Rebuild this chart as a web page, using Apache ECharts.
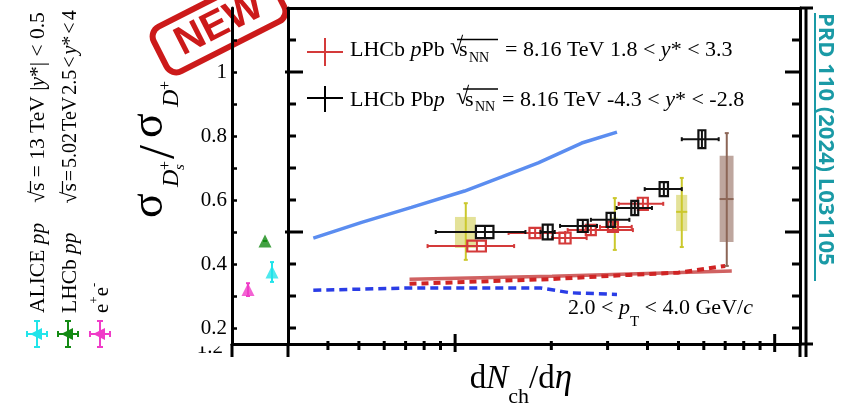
<!DOCTYPE html>
<html>
<head>
<meta charset="utf-8">
<title>Ds+/D+ vs dNch/deta</title>
<script src="https://cdn.jsdelivr.net/npm/echarts@6.0.0/dist/echarts.min.js"></script>
<style>
  html, body { margin: 0; padding: 0; background: #fff; }
  #main { width: 846px; height: 412px; }
</style>
</head>
<body>
<div id="main"></div>
<script>
// LHCb pPb 1.8 < y* < 3.3 : point, x error range, syst box (x relative, y absolute)
var pPbX    = [11.7, 17.8, 22.1, 26.6, 31.2, 38.7];
var pPbY    = [0.456, 0.497, 0.481, 0.506, 0.516, 0.588];
var pPbXLo  = [8.2, 14.7, 20.1, 22.5, 28.4, 32.5];
var pPbXHi  = [15.3, 22.1, 25.8, 36.0, 35.7, 44.8];
var pPbSysX = [0.067, 0.04, 0.04, 0.036, 0.036, 0.036];
var pPbSysY = [0.017, 0.016, 0.017, 0.016, 0.016, 0.019];

// LHCb Pbp -4.3 < y* < -2.8
var pbpX    = [12.4, 19.5, 25.1, 30.7, 36.5, 45.0, 59.2];
var pbpY    = [0.500, 0.500, 0.519, 0.538, 0.575, 0.634, 0.790];
var pbpXLo  = [8.7, 18.5, 21.3, 26.6, 32.0, 39.2, 51.2];
var pbpXHi  = [16.6, 20.5, 27.8, 35.1, 41.3, 51.2, 66.8];
var pbpSysX = [0.063, 0.036, 0.036, 0.03, 0.025, 0.03, 0.025];
var pbpSysY = [0.019, 0.023, 0.019, 0.022, 0.022, 0.022, 0.028];

// yellow / brown bands
var yelX     = [10.8, 31.6, 51.2];
var yelY     = [0.500, 0.525, 0.563];
var yelLo    = [0.413, 0.444, 0.453];
var yelHi    = [0.590, 0.606, 0.669];
var yelBoxLo = [0.450, 0.505, 0.503];
var yelBoxHi = [0.547, 0.545, 0.616];
var yelSysX  = [0.075, 0.02, 0.04];

var brX = [70.8], brY = [0.603], brLo = [0.394], brHi = [0.809];
var brBoxLo = [0.469], brBoxHi = [0.738], brSysX = [0.05];

// curves
var blueX     = [3.6, 5.1, 7.3, 10.7, 14.0, 18.2, 24.9, 32.1];
var blueY     = [0.481, 0.530, 0.577, 0.628, 0.672, 0.716, 0.778, 0.812];
var blueDashX = [3.6, 7.2, 18.5, 23.0, 32.1];
var blueDashY = [0.318, 0.325, 0.325, 0.310, 0.305];
var redX      = [7.2, 20.1, 73.4];
var redY      = [0.352, 0.362, 0.378];
var redDashX  = [7.2, 20.1, 35.0, 50.0, 70.0];
var redDashY  = [0.338, 0.353, 0.366, 0.373, 0.394];

// reference points (left panel): e+e-, LHCb pp, ALICE pp
var refPos = [16, 33, 40];
var refY   = [0.320, 0.472, 0.375];
var refLo  = [0.300, 0.472, 0.344];
var refHi  = [0.340, 0.472, 0.406];
var refColors = ['#f03cc8', '#138a13', '#22e4ea'];

// ticks
var xMinorTicks = [4, 5, 6, 7, 8, 9, 20, 30, 40, 50, 60, 70, 80, 90];
var xMajorTicks = [10, 100];
var yMinorTicks = [0.2, 0.3, 0.4, 0.6, 0.7, 0.8, 0.9, 1.1];
var yMajorTicks = [0.5, 1.0];
var yLabels = [0.2, 0.4, 0.6, 0.8, 1];
var yLeftTicks = [0.2, 0.3, 0.4, 0.5, 0.6, 0.7, 0.8, 0.9, 1.0, 1.1];

var serif = '"Liberation Serif", "Times New Roman", serif';
var RED = '#d43a3a';

function zip() {
  var cols = Array.prototype.slice.call(arguments);
  return cols[0].map(function (v, i) {
    return cols.map(function (c) { return c[i]; });
  });
}
function tk(size, italic, extra) {
  var s = { fontSize: size, fontFamily: serif, fontStyle: italic ? 'italic' : 'normal', fill: '#000' };
  for (var k in extra || {}) s[k] = extra[k];
  return s;
}

// box + horizontal error bar point
function sysPoint(color) {
  return function (params, api) {
    var x = api.value(0), y = api.value(1);
    var c = api.coord([x, y]);
    var lo = api.coord([api.value(2), y]);
    var hi = api.coord([api.value(3), y]);
    var b0 = api.coord([x * (1 - api.value(4)), y - api.value(5)]);
    var b1 = api.coord([x * (1 + api.value(4)), y + api.value(5)]);
    var st = { stroke: color, lineWidth: 2 };
    return { type: 'group', children: [
      { type: 'line', shape: { x1: lo[0], y1: c[1], x2: hi[0], y2: c[1] }, style: st },
      { type: 'line', shape: { x1: lo[0], y1: c[1] - 2, x2: lo[0], y2: c[1] + 2 }, style: st },
      { type: 'line', shape: { x1: hi[0], y1: c[1] - 2, x2: hi[0], y2: c[1] + 2 }, style: st },
      { type: 'rect', shape: { x: b0[0], y: b1[1], width: b1[0] - b0[0], height: b0[1] - b1[1] },
        style: { stroke: color, lineWidth: 2.2, fill: 'none' } },
      { type: 'line', shape: { x1: c[0], y1: b1[1], x2: c[0], y2: b0[1] }, style: st }
    ] };
  };
}

// filled syst band + vertical error bar
function band(fillColor, lineColor) {
  return function (params, api) {
    var x = api.value(0), y = api.value(1);
    var c = api.coord([x, y]);
    var lo = api.coord([x, api.value(2)]);
    var hi = api.coord([x, api.value(3)]);
    var b0 = api.coord([x * (1 - api.value(6)), api.value(4)]);
    var b1 = api.coord([x * (1 + api.value(6)), api.value(5)]);
    var st = { stroke: lineColor, lineWidth: 2 };
    return { type: 'group', children: [
      { type: 'rect', shape: { x: b0[0], y: b1[1], width: b1[0] - b0[0], height: b0[1] - b1[1] },
        style: { fill: fillColor } },
      { type: 'line', shape: { x1: c[0], y1: hi[1], x2: c[0], y2: lo[1] }, style: st },
      { type: 'line', shape: { x1: c[0] - 2, y1: hi[1], x2: c[0] + 2, y2: hi[1] }, style: st },
      { type: 'line', shape: { x1: c[0] - 2, y1: lo[1], x2: c[0] + 2, y2: lo[1] }, style: st },
      { type: 'line', shape: { x1: b0[0], y1: c[1], x2: b1[0], y2: c[1] }, style: st }
    ] };
  };
}

function xTick(params, api) {
  var p = api.coord([api.value(0), 0.15]);
  var major = api.value(2) === 1;
  return { type: 'line',
    shape: { x1: p[0], y1: p[1] - (major ? 10 : 3), x2: p[0], y2: p[1] + (major ? 8 : 6) },
    style: { stroke: '#000', lineWidth: 3 } };
}
function yTick(params, api) {
  var v = api.value(1), major = api.value(2) === 1, len = major ? 15 : 8;
  var l = api.coord([3, v]), r = api.coord([120, v]);
  var st = { stroke: '#000', lineWidth: 3 };
  return { type: 'group', children: [
    { type: 'line', shape: { x1: l[0] - (major ? 3 : 0), y1: l[1], x2: l[0] + len, y2: l[1] }, style: st },
    { type: 'line', shape: { x1: r[0] - len, y1: r[1], x2: r[0], y2: r[1] }, style: st }
  ] };
}
function vErr(params, api) {
  var x = api.value(0);
  var lo = api.coord([x, api.value(1)]), hi = api.coord([x, api.value(2)]);
  var st = { stroke: refColors[params.dataIndex], lineWidth: 2 };
  return { type: 'group', children: [
    { type: 'line', shape: { x1: lo[0], y1: lo[1], x2: hi[0], y2: hi[1] }, style: st },
    { type: 'line', shape: { x1: hi[0] - 2, y1: hi[1], x2: hi[0] + 2, y2: hi[1] }, style: st },
    { type: 'line', shape: { x1: lo[0] - 2, y1: lo[1], x2: lo[0] + 2, y2: lo[1] }, style: st }
  ] };
}

var axisLine = { show: true, lineStyle: { color: '#000', width: 3 } };
var off = { show: false };

// legend cross marker for the left (rotated) legend
function refMarker(cx, cy, color) {
  var st = { stroke: color, lineWidth: 2 };
  return [
    { type: 'line', shape: { x1: cx, y1: cy - 13, x2: cx, y2: cy + 13 }, style: st },
    { type: 'line', shape: { x1: cx - 10, y1: cy, x2: cx + 10, y2: cy }, style: st },
    { type: 'line', shape: { x1: cx - 10, y1: cy - 3, x2: cx - 10, y2: cy + 3 }, style: st },
    { type: 'line', shape: { x1: cx + 10, y1: cy - 3, x2: cx + 10, y2: cy + 3 }, style: st },
    { type: 'line', shape: { x1: cx - 3, y1: cy - 13, x2: cx + 3, y2: cy - 13 }, style: st },
    { type: 'line', shape: { x1: cx - 3, y1: cy + 13, x2: cx + 3, y2: cy + 13 }, style: st },
    { type: 'polygon', shape: { points: [[cx - 7, cy], [cx + 5, cy - 6], [cx + 5, cy + 6]] }, style: { fill: color } }
  ];
}
function line(x1, y1, x2, y2, color, w) {
  return { type: 'line', z: 40, shape: { x1: x1, y1: y1, x2: x2, y2: y2 }, style: { stroke: color || '#000', lineWidth: w || 3 } };
}
function txt(x, y, text, rich, extra) {
  var st = { text: text, rich: rich, fontSize: 22, fontFamily: serif, fill: '#000', align: 'left', verticalAlign: 'middle' };
  for (var k in extra || {}) st[k] = extra[k];
  return { type: 'text', x: x, y: y, z: 40, style: st };
}

var legRich = { n: tk(22, false), i: tk(22, true) };
var leftRich = {
  n: tk(21.5, false), i: tk(21.5, true),
  r: tk(20, false), ri: tk(20, true),
  g: tk(21.5, false, { width: 20 }), g2: tk(21.5, false, { width: 29 }),
  t: tk(8, false)
};

var graphic = [
  // extra frame lines
  line(806, 8, 806, 357), line(800, 344, 800, 357), line(288, 344, 288, 357), line(232, 344, 232, 357),
  line(800, 8, 813, 8), line(800, 344, 813, 344),
  // cut "1.2" label
  { type: 'text', x: 223, y: 347, z: 30, style: { text: '1.2', fontSize: 21, fontFamily: serif, fill: '#000', align: 'right', verticalAlign: 'middle' } },
  { type: 'rect', z: 31, shape: { x: 190, y: 337, width: 39, height: 9.5 }, style: { fill: '#fff' } },

  // main legend
  line(307, 52, 343, 52, RED, 2), line(325, 38, 325, 66, RED, 2),
  line(307, 98, 343, 98, '#000', 2), line(325, 86, 325, 112, '#000', 2),
  txt(350, 50.5, '{n|LHCb }{i|p}{n|Pb}', legRich),
  txt(450, 48, '√', null, { fontSize: 24 }),
  txt(459, 50.5, 's', null),
  txt(469, 58, 'NN', null, { fontSize: 14 }),
  line(457, 39.5, 498, 39.5, '#000', 1.5),
  txt(505, 50.5, '{n|= 8.16 TeV 1.8 < }{i|y}{n|* < 3.3}', legRich),
  txt(350, 100, '{n|LHCb Pb}{i|p}', legRich),
  txt(456, 97.5, '√', null, { fontSize: 24 }),
  txt(465, 100, 's', null),
  txt(475, 107.5, 'NN', null, { fontSize: 14 }),
  line(463, 89, 498, 89, '#000', 1.5),
  txt(502, 100, '{n|= 8.16 TeV -4.3 < }{i|y}{n|* < -2.8}', legRich),

  // pT range
  txt(568, 308, '{n|2.0 < }{i|p}{s|T}{n| < 4.0 GeV/}{i|c}',
    { n: tk(22, false, { lineHeight: 44 }), i: tk(22, true, { lineHeight: 44 }),
      s: tk(15, false, { lineHeight: 15, verticalAlign: 'bottom' }) }),

  // x axis title
  txt(521, 379, '{n|d}{i|N}{s|ch}{n|/d}{e|η}',
    { n: tk(33, false, { lineHeight: 59 }), i: tk(33, true, { lineHeight: 59 }),
      e: tk(35, true, { lineHeight: 59 }),
      s: tk(22, false, { lineHeight: 22, verticalAlign: 'bottom' }) }, { align: 'center' }),

  // y axis title, rotated
  { type: 'group', x: 164, y: 218, rotation: Math.PI / 2, z: 40, children: [
    { type: 'text', x: 0, y: -14, style: { text: 'σ', fontSize: 46, fontFamily: serif, verticalAlign: 'middle' } },
    { type: 'text', x: 31, y: 8, style: { text: 'D', fontSize: 24, fontStyle: 'italic', fontFamily: serif, verticalAlign: 'middle' } },
    { type: 'text', x: 48, y: 16, style: { text: 's', fontSize: 15, fontStyle: 'italic', fontFamily: serif, verticalAlign: 'middle' } },
    { type: 'text', x: 48, y: 2, style: { text: '+', fontSize: 16, fontFamily: serif, verticalAlign: 'middle' } },
    { type: 'text', x: 59, y: -4, style: { text: '/', fontSize: 50, fontFamily: serif, verticalAlign: 'middle' } },
    { type: 'text', x: 80, y: -14, style: { text: 'σ', fontSize: 46, fontFamily: serif, verticalAlign: 'middle' } },
    { type: 'text', x: 111, y: 8, style: { text: 'D', fontSize: 24, fontStyle: 'italic', fontFamily: serif, verticalAlign: 'middle' } },
    { type: 'text', x: 128, y: 2, style: { text: '+', fontSize: 16, fontFamily: serif, verticalAlign: 'middle' } }
  ] },

  // left rotated legend
  { type: 'text', x: 38.5, y: 313, rotation: Math.PI / 2, z: 40,
    style: { text: '{n|ALICE }{i|pp}{g| }{n|√s = 13 TeV |}{i|y}{n|*| < 0.5}', rich: leftRich, fontSize: 21.5, fontFamily: serif, verticalAlign: 'middle' } },
  { type: 'text', x: 70.5, y: 313, rotation: Math.PI / 2, z: 40,
    style: { text: '{n|LHCb }{i|pp}{g2| }{n|√s}{t| }{r|=}{t| }{r|5.02}{t| }{r|TeV}{t| }{r|2.5}{t| }{r|<}{t| }{ri|y}{r|*}{t| }{r|<}{t| }{r|4}',
      rich: leftRich, fontSize: 21.5, fontFamily: serif, verticalAlign: 'middle' } },
  { type: 'text', x: 102, y: 313, rotation: Math.PI / 2, z: 40,
    style: { text: '{n|e}{p|+}{n|e}{p|-}', fontSize: 21, fontFamily: serif, verticalAlign: 'middle',
      rich: { n: tk(21, false, { lineHeight: 28 }), p: tk(13, false, { lineHeight: 13, verticalAlign: 'top' }) } } },
  line(30.5, 193, 30.5, 181, '#000', 1.2), line(62.5, 193, 62.5, 181, '#000', 1.2),

  // journal reference
  { type: 'text', x: 825, y: 13, rotation: -Math.PI / 2, z: 40,
    style: { text: 'PRD 110 (2024) L031105', fontSize: 22, fontWeight: 'bold', fontFamily: '"Open Sans", "Noto Sans", sans-serif',
      fill: '#1a9aa6', align: 'left', verticalAlign: 'middle' } },
  line(815, 13, 815, 281, '#1a9aa6', 2),

  // NEW stamp
  { type: 'group', x: 219, y: 24, rotation: 0.47, z: 60, children: [
    { type: 'rect', shape: { x: -66, y: -25, width: 132, height: 50, r: 11 }, style: { fill: '#fff', stroke: '#cc1a1a', lineWidth: 6 } },
    { type: 'text', x: 0, y: 1, style: { text: 'NEW', fontSize: 40, fontWeight: 'bold', fontFamily: '"Liberation Sans", sans-serif',
      fill: '#cc1a1a', align: 'center', verticalAlign: 'middle' } }
  ] }
];
refColors.forEach(function (c, i) {
  graphic = graphic.concat(refMarker([100, 68, 37][i], 334, c));
});

var option = {
  animation: false,
  backgroundColor: '#fff',
  grid: [
    { left: 288, top: 8, width: 512, height: 336 },
    { left: 232, top: 8, width: 56, height: 336 }
  ],
  xAxis: [
    { type: 'log', gridIndex: 0, min: 3, max: 120, axisLine: axisLine, axisTick: off, axisLabel: off, splitLine: off },
    { type: 'log', gridIndex: 0, position: 'top', min: 3, max: 120, axisLine: axisLine, axisTick: off, axisLabel: off, splitLine: off },
    { type: 'value', gridIndex: 1, min: 0, max: 56, axisLine: axisLine, axisTick: off, axisLabel: off, splitLine: off }
  ],
  yAxis: [
    { type: 'value', gridIndex: 0, min: 0.15, max: 1.2, axisLine: axisLine, axisTick: off, axisLabel: off, splitLine: off },
    { type: 'value', gridIndex: 0, position: 'right', min: 0.15, max: 1.2, axisLine: axisLine, axisTick: off, axisLabel: off, splitLine: off },
    { type: 'value', gridIndex: 1, min: 0.15, max: 1.2, axisLine: axisLine, splitLine: off,
      axisTick: { show: true, inside: true, length: 5, customValues: yLeftTicks, lineStyle: { width: 2.5, color: '#000' } },
      axisLabel: { show: true, customValues: yLabels, margin: 5, color: '#000', fontSize: 21, fontFamily: serif,
        formatter: function (v) { return v === 1 ? '1' : v.toFixed(1); } } }
  ],
  graphic: graphic,
  series: [
    { type: 'line', data: zip(blueX, blueY), symbol: 'none', smooth: false, z: 2,
      lineStyle: { color: '#5b8df0', width: 3.5 } },
    { type: 'line', data: zip(blueDashX, blueDashY), symbol: 'none', z: 2,
      lineStyle: { color: '#2a3de6', width: 3.5, type: [8, 5] } },
    { type: 'line', data: zip(redX, redY), symbol: 'none', z: 2,
      lineStyle: { color: '#d06262', width: 3.5 } },
    { type: 'line', data: zip(redDashX, redDashY), symbol: 'none', z: 2,
      lineStyle: { color: '#d02424', width: 4, type: [7, 5] } },
    { type: 'custom', renderItem: band('rgba(205,203,70,0.55)', '#cbc82c'), z: 3, silent: true,
      data: zip(yelX, yelY, yelLo, yelHi, yelBoxLo, yelBoxHi, yelSysX) },
    { type: 'custom', renderItem: band('rgba(150,112,98,0.62)', '#8c6657'), z: 3, silent: true,
      data: zip(brX, brY, brLo, brHi, brBoxLo, brBoxHi, brSysX) },
    { type: 'custom', renderItem: sysPoint(RED), z: 4, silent: true,
      data: zip(pPbX, pPbY, pPbXLo, pPbXHi, pPbSysX, pPbSysY) },
    { type: 'custom', renderItem: sysPoint('#111'), z: 5, silent: true,
      data: zip(pbpX, pbpY, pbpXLo, pbpXHi, pbpSysX, pbpSysY) },
    { type: 'custom', renderItem: xTick, z: 10, silent: true,
      data: xMinorTicks.map(function (v) { return [v, 0.15, 0]; })
        .concat(xMajorTicks.map(function (v) { return [v, 0.15, 1]; })) },
    { type: 'custom', renderItem: yTick, z: 10, silent: true,
      data: yMinorTicks.map(function (v) { return [3, v, 0]; })
        .concat(yMajorTicks.map(function (v) { return [3, v, 1]; })) },
    // left panel reference points
    { type: 'custom', xAxisIndex: 2, yAxisIndex: 2, renderItem: vErr, z: 4, silent: true,
      data: zip(refPos, refLo, refHi) },
    { type: 'scatter', xAxisIndex: 2, yAxisIndex: 2, symbol: 'triangle', symbolSize: 13, z: 5,
      data: zip(refPos, refY).map(function (d, i) { return { value: d, itemStyle: { color: refColors[i] } }; }) }
  ]
};

var chart = echarts.init(document.getElementById('main'));
chart.setOption(option);
</script>
</body>
</html>
